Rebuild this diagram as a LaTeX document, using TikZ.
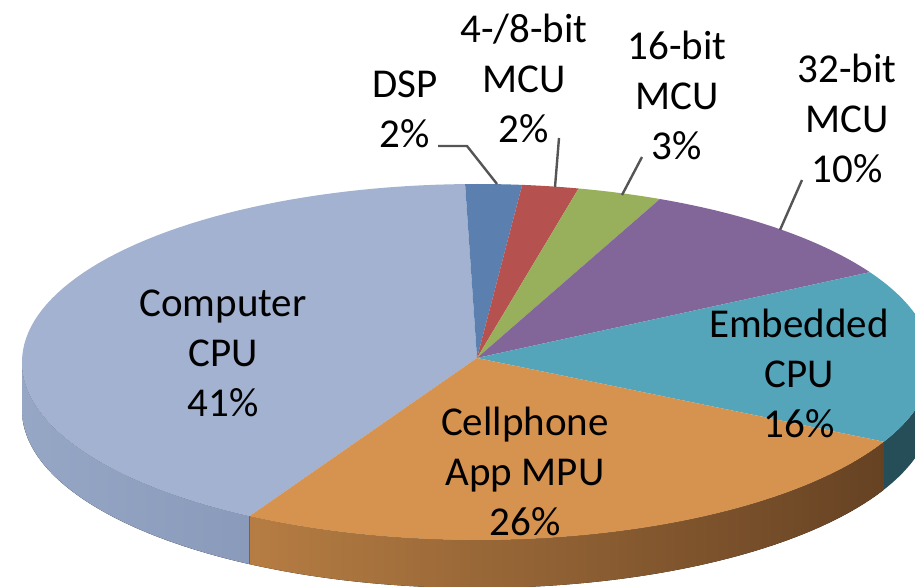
\documentclass[tikz,border=0pt]{standalone}
\usepackage{fontspec}
\setmainfont{Carlito}
\definecolor{cComp}{RGB}{162,178,208}
\definecolor{cCompSideL}{RGB}{150,166,197}
\definecolor{cCompSideR}{RGB}{138,154,186}
\definecolor{cDSP}{RGB}{91,128,176}
\definecolor{cEight}{RGB}{181,82,79}
\definecolor{cSixteen}{RGB}{152,176,92}
\definecolor{cThirtytwo}{RGB}{130,102,153}
\definecolor{cEmb}{RGB}{85,165,186}
\definecolor{cEmbSide}{RGB}{38,78,88}
\definecolor{cCell}{RGB}{214,146,79}
\definecolor{cCellSideL}{RGB}{182,125,67}
\definecolor{cCellSideR}{RGB}{102,66,35}
\definecolor{leadgray}{RGB}{85,85,85}
\newcommand\pcx{477}
\newcommand\pcy{362}
\newcommand\prx{455}
\newcommand\pry{178}
\newcommand\pdep{48}
\newcommand\pietop[3]{\fill[#3] (477,358) -- plot[domain=#1:#2, samples=80, variable=\t] ({\pcx+\prx*cos(\t)},{\pcy-\pry*sin(\t)}) -- cycle;}
\newcommand\pieside[3]{\fill[#3] plot[domain=#1:#2, samples=80, variable=\t] ({\pcx+\prx*cos(\t)},{\pcy-\pry*sin(\t)}) -- plot[domain=#2:#1, samples=80, variable=\t] ({\pcx+\prx*cos(\t)},{\pcy+\pdep-\pry*sin(\t)}) -- cycle;}
\begin{document}
\begin{tikzpicture}[x=0.5pt,y=-0.5pt,
  lbl/.style={align=center, inner sep=0pt, font=\fontsize{20.5}{25}\selectfont, text=black},
  leader/.style={draw=leadgray, line width=1.2pt}]
\useasboundingbox (0,0) rectangle (915,587);
\clip (0,0) rectangle (915,587);
% sides
\pieside{-180}{-120}{left color=cCompSideL, right color=cCompSideR}
\pieside{-120}{-26.6}{left color=cCellSideL, right color=cCellSideR}
\pieside{-26.6}{0}{cEmbSide}
% tops
\pietop{91.5}{240}{cComp}
\pietop{84.3}{91.5}{cDSP}
\pietop{77.1}{84.3}{cEight}
\pietop{66.3}{77.1}{cSixteen}
\pietop{30.3}{66.3}{cThirtytwo}
\pietop{-26.6}{30.3}{cEmb}
\pietop{-120}{-26.6}{cCell}
% labels
\node[lbl] (lComp) at (223,353.5) {Computer\\CPU\\41\%};
\node[lbl] (lCell) at (525,471.5) {Cellphone\\App MPU\\26\%};
\node[lbl] (lEmb) at (799,373.5) {Embedded\\CPU\\16\%};
\node[lbl] (lDSP) at (405,109.5) {DSP\\2\%};
\node[lbl] (lEight) at (524,78.5) {4-/8-bit\\MCU\\2\%};
\node[lbl] (lSixteen) at (677,95.5) {16-bit\\MCU\\3\%};
\node[lbl] (lThirtytwo) at (847,118) {32-bit\\MCU\\10\%};
% leader lines
\coordinate (dA) at (438,146);
\coordinate (dB) at (467,146);
\coordinate (dC) at (497,184);
\coordinate (eA) at (559,138);
\coordinate (eB) at (555,187);
\coordinate (sA) at (642,157);
\coordinate (sB) at (622,195);
\coordinate (tA) at (802,180);
\coordinate (tB) at (780,230);
\draw[leader] (dA) -- (dB) -- (dC);
\draw[leader] (eA) -- (eB);
\draw[leader] (sA) -- (sB);
\draw[leader] (tA) -- (tB);
\end{tikzpicture}
\end{document}
